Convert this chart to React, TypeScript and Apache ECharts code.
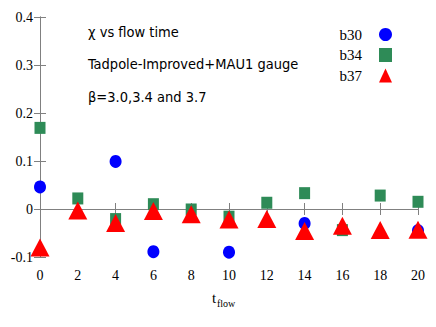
import React, { useEffect, useRef } from "react";
import * as echarts from "echarts";

const flowTimes = [0, 2, 4, 6, 8, 10, 12, 14, 16, 18, 20];
const b30: [number, number][] = [
  [0, 0.046],
  [4, 0.099],
  [6, -0.089],
  [10, -0.09],
  [14, -0.03],
  [20, -0.045],
];
const b34Values = [0.169, 0.022, -0.021, 0.01, -0.001, -0.016, 0.013, 0.033, -0.044, 0.028, 0.015];
const b37Values = [-0.08, -0.003, -0.029, -0.004, -0.011, -0.022, -0.021, -0.046, -0.035, -0.044, -0.043];
const annotations = ["χ vs flow time", "Tadpole-Improved+MAU1 gauge", "β=3.0,3.4 and 3.7"];

export default function App() {
  const ref = useRef<HTMLDivElement>(null);
  useEffect(() => {
    document.body.style.margin = "0";
    const chart = echarts.init(ref.current!, null, { renderer: "svg" });
    const gray = "#808080";
    const serif = "'Liberation Serif', 'Times New Roman', serif";
    const axisCommon = {
      axisLine: { show: true, lineStyle: { color: gray, width: 1 } },
      axisTick: { show: true, inside: true, length: 6, lineStyle: { color: gray } },
      splitLine: { show: false },
    };
    chart.setOption({
      animation: false,
      backgroundColor: "#fff",
      textStyle: { fontFamily: serif },
      grid: { left: 40, right: 18, top: 17, bottom: 70 },
      xAxis: [
        {
          type: "value", min: 0, max: 20, interval: 2, position: "bottom",
          ...axisCommon,
          axisLabel: { color: "#000", fontFamily: serif, fontSize: 14, margin: 11 },
        },
        {
          type: "value", min: 0, max: 20, interval: 2, position: "top",
          ...axisCommon,
          axisLabel: { show: false },
        },
      ],
      yAxis: [
        {
          type: "value", min: -0.1, max: 0.4, interval: 0.1, position: "left",
          ...axisCommon,
          axisLabel: {
            color: "#000", fontFamily: serif, fontSize: 14, margin: 7,
            formatter: (v: number) => String(Number(v.toFixed(1))),
          },
        },
        {
          type: "value", min: -0.1, max: 0.4, interval: 0.1, position: "right",
          ...axisCommon,
          axisLabel: { show: false },
        },
      ],
      legend: {
        orient: "vertical", right: 39, top: 22, align: "right", itemGap: 5.5,
        itemWidth: 13, itemHeight: 14,
        textStyle: { fontFamily: serif, fontSize: 15, color: "#000", padding: [0, 12, 0, 0] },
        data: ["b30", "b34", "b37"],
      },
      series: [
        {
          name: "b30", type: "scatter", data: b30, symbol: "circle", symbolSize: [12, 13],
          itemStyle: { color: "#0000ff", opacity: 1 },
        },
        {
          name: "b34", type: "scatter", data: flowTimes.map((t, i) => [t, b34Values[i]]),
          symbol: "rect", symbolSize: [11, 12], itemStyle: { color: "#2e8b57", opacity: 1 },
        },
        {
          name: "b37", type: "scatter", data: flowTimes.map((t, i) => [t, b37Values[i]]),
          symbol: "triangle", symbolSize: [19, 18], itemStyle: { color: "#ff0000", opacity: 1 },
        },
      ],
      graphic: [
        ...annotations.map((s, i) => ({
          type: "text", left: 88, top: 24 + i * 32.5,
          style: { text: s, fontFamily: "'DejaVu Sans Condensed', sans-serif", fontSize: 14.5, fill: "#000" },
        })),
        { type: "text", left: 212, top: 290, style: { text: "t", fontFamily: serif, fontSize: 15, fill: "#000" } },
        { type: "text", left: 217, top: 298, style: { text: "flow", fontFamily: serif, fontSize: 10, fill: "#000" } },
      ],
    });
    return () => chart.dispose();
  }, []);
  return <div ref={ref} style={{ width: 436, height: 327 }} />;
}
